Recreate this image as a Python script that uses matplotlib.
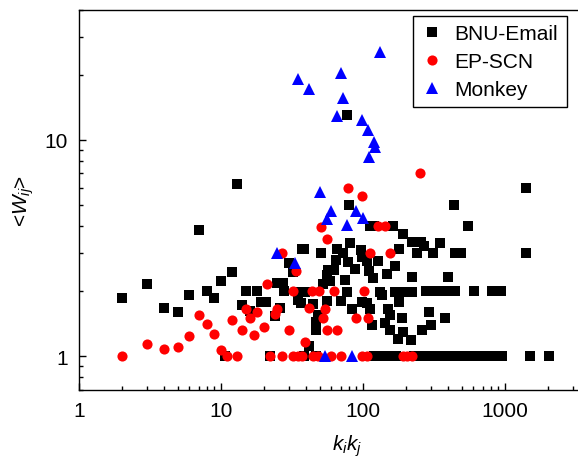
import matplotlib
matplotlib.use('Agg')
import matplotlib.pyplot as plt
import numpy as np

plt.rcParams['font.family'] = ['Liberation Sans', 'DejaVu Sans']
plt.rcParams['mathtext.fontset'] = 'custom'
plt.rcParams['mathtext.rm'] = 'Liberation Sans'
plt.rcParams['mathtext.it'] = 'Liberation Sans:italic'

# BNU-Email (black squares)
email_x = [2, 3, 4, 5, 6, 7, 8, 9, 10, 12, 13, 10.7, 15, 18, 14, 16, 19, 20.7,
           24.9, 27.4, 28, 26, 24, 30, 32, 37, 36, 35, 36.4, 22, 38.5, 50.4, 66, 81,
           97, 72.5, 64.5, 78, 98, 106, 128, 57, 62.5, 88, 55.5, 118, 75, 59, 52.7,
           110, 148, 168, 179, 192, 220, 222, 39, 76.6, 131, 168, 197, 222, 44.6,
           55.5, 69.5, 84, 98, 107, 112, 137, 150, 156, 179, 189, 48.5, 47, 47, 115,
           143, 156, 192, 177, 42, 219, 112, 120, 163, 77, 80, 1406, 440, 550, 256,
           268, 350, 240, 310, 445, 490, 1406, 400, 280, 320, 360, 400, 445, 610,
           815, 940, 290, 380, 303, 260,
           38.5, 47, 120, 130, 140, 150, 160, 170, 230, 250, 270, 290, 310, 335,
           360, 390, 420, 450, 480, 520, 560, 600, 650, 700, 810, 880, 950, 1500, 2050]
email_y = [1.86, 2.15, 1.68, 1.61, 1.93, 3.83, 2.0, 1.86, 2.23, 2.46, 6.24, 1.0, 2.0, 2.0,
           1.73, 1.62, 1.79, 1.79, 2.19, 2.19, 2.0, 1.67, 1.54, 2.71, 2.46, 3.12, 1.99,
           1.83, 1.77, 1.0, 3.14, 3.0, 3.14, 3.34, 3.09, 3.0, 2.79, 2.73, 2.88, 2.76,
           2.75, 2.52, 2.52, 2.53, 2.38, 2.31, 2.25, 2.22, 2.16, 2.48, 2.40, 2.61, 3.12,
           3.66, 3.36, 2.33, 1.99, 1.99, 1.99, 1.99, 1.99, 1.99, 1.75, 1.81, 1.81, 1.66,
           1.79, 1.77, 1.66, 1.93, 1.66, 1.56, 1.79, 1.5, 1.56, 1.45, 1.33, 1.39, 1.42,
           1.33, 1.30, 1.20, 1.12, 1.19, 4.0, 4.0, 4.0, 13.0, 5.0, 6.0, 5.0, 4.0, 3.36,
           3.23, 3.33, 3.0, 3.0, 3.0, 3.0, 3.0, 2.33, 2.0, 2.0, 2.0, 2.0, 2.0, 2.0, 2.0,
           2.0, 1.6, 1.51, 1.39, 1.33,
           1, 1, 1, 1, 1, 1, 1, 1, 1, 1, 1, 1, 1, 1,
           1, 1, 1, 1, 1, 1, 1, 1, 1, 1, 1, 1, 1, 1, 1]

# EP-SCN (red circles)
scn_x = [2, 3, 4, 5, 6, 7, 8, 9, 10, 11.1, 13, 12, 14, 15, 16, 17, 18, 20, 21, 22,
         27, 24, 25, 30, 32, 27, 34, 39, 32, 35, 37, 51, 56, 112, 155, 128, 144, 44,
         49, 63, 101, 42, 54, 52.7, 90, 108, 55.5, 66, 44.6, 48.5, 60, 70, 98, 106,
         190, 205, 220, 252, 78, 98]
scn_y = [1.0, 1.14, 1.08, 1.10, 1.24, 1.56, 1.41, 1.27, 1.07, 1.0, 1.0, 1.47, 1.33,
         1.66, 1.5, 1.25, 1.6, 1.37, 2.17, 1.0, 1.0, 1.57, 1.66, 1.33, 2.0, 3.0, 2.48,
         1.17, 1.0, 1.0, 1.0, 3.98, 3.5, 3.0, 3.0, 4.0, 4.0, 2.0, 2.0, 2.0, 2.0, 1.67,
         1.66, 1.5, 1.5, 1.5, 1.33, 1.33, 1.0, 1.0, 1.0, 1.0, 1.0, 1.0, 1.0, 1.0, 1.0,
         7.0, 6.0, 5.5]

# Monkey (blue triangles)
monkey_x = [131, 35, 42, 70, 72, 66, 99, 108, 120, 121, 110, 50, 60, 90, 100, 55.5,
            77, 25, 33, 54, 84]
monkey_y = [25.4, 19.2, 17.2, 20.4, 15.7, 12.9, 12.4, 11.1, 9.8, 9.3, 8.3, 5.75, 4.7,
            4.7, 4.37, 4.3, 4.04, 3.0, 2.71, 1.0, 1.0]

fig = plt.figure(figsize=(5.78, 4.6), dpi=100)
# axes runs past the right edge of the figure, as in the original crop
ax = fig.add_axes([0.1367, 0.15, 0.928, 0.827])

ax.plot(email_x, email_y, 's', color='black', ms=6.5, mew=0, label='BNU-Email')
ax.plot(scn_x, scn_y, 'o', color='red', ms=7.3, mew=0, label='EP-SCN')
ax.plot(monkey_x, monkey_y, '^', color='blue', ms=8, mew=0, label='Monkey')

ax.set_xscale('log')
ax.set_yscale('log')
ax.set_xlim(1, 6000)
ax.set_ylim(0.7, 40)

ax.set_xticks([1, 10, 100, 1000])
ax.set_xticklabels(['1', '10', '100', '1000'])
ax.set_yticks([1, 10])
ax.set_yticklabels(['1', '10'])
ax.yaxis.set_minor_formatter(matplotlib.ticker.NullFormatter())
ax.xaxis.set_minor_formatter(matplotlib.ticker.NullFormatter())

ax.tick_params(which='both', direction='in', top=False, right=False, labelsize=15, width=1)
ax.tick_params(which='major', length=5, pad=8)
ax.tick_params(which='minor', length=3)
for s in ax.spines.values():
    s.set_linewidth(1.0)

ax.set_xlabel(r'$k_ik_j$', fontsize=15, labelpad=9)
ax.set_ylabel(r'<$W_{ij}$>', fontsize=15, labelpad=6)

leg = ax.legend(loc='upper right', bbox_to_anchor=(566.7 / 578, 1 - 17 / 460),
                bbox_transform=fig.transFigure, borderaxespad=0, fontsize=15,
                fancybox=False, edgecolor='black', framealpha=1, handlelength=1,
                handletextpad=0.6, labelspacing=0.42)
leg.get_frame().set_linewidth(1.0)

fig.savefig('out.png', dpi=100)
